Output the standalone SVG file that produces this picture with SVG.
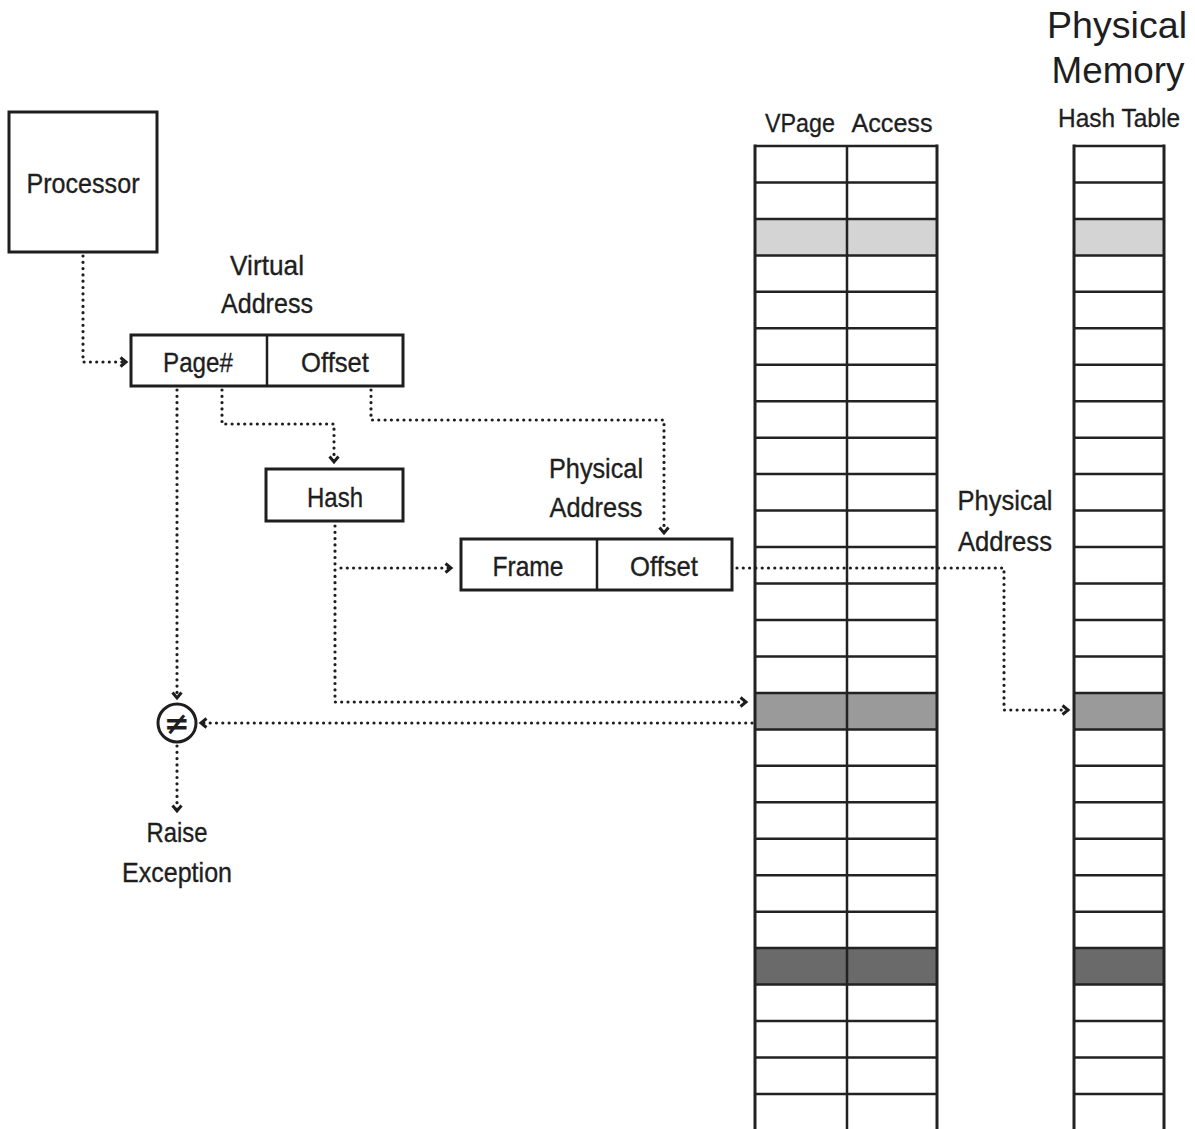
<svg xmlns="http://www.w3.org/2000/svg" width="1195" height="1129" viewBox="0 0 1195 1129">
<style>
.box{fill:#fff;stroke:#1e1e1e;stroke-width:3}
.div{stroke:#1e1e1e;stroke-width:2.5;fill:none}
.t{font-family:"Liberation Sans",Arial,sans-serif;font-size:28.5px;fill:#1e1e1e;stroke:#1e1e1e;stroke-width:0.35;text-anchor:middle}
.h{font-family:"Liberation Sans",Arial,sans-serif;font-size:26px;fill:#1e1e1e;stroke:#1e1e1e;stroke-width:0.3;text-anchor:middle}
.big{font-family:"Liberation Sans",Arial,sans-serif;font-size:36px;fill:#1e1e1e;text-anchor:middle}
.dot{fill:none;stroke:#1e1e1e;stroke-width:3.2;stroke-linecap:round;stroke-dasharray:0 6.3}
.grid{fill:none;stroke:#222;stroke-width:2.5}
.l{fill:#d4d4d4}.m{fill:#9a9a9a}.d{fill:#6a6a6a}
</style>
<defs>
<marker id="ah" markerUnits="userSpaceOnUse" markerWidth="14" markerHeight="14" refX="8" refY="6" orient="auto" viewBox="0 0 14 12">
<path d="M2.5,1.5 L8,6 L2.5,10.5" fill="none" stroke="#1e1e1e" stroke-width="3"/>
</marker>
</defs>
<rect width="1195" height="1129" fill="#fff"/>

<g id="processor">
<rect class="box" x="9" y="112" width="148" height="140"/>
<text class="t" x="83" y="193" textLength="113" lengthAdjust="spacingAndGlyphs">Processor</text>
</g>

<g id="virtual-address">
<text class="t" x="267" y="275" textLength="74" lengthAdjust="spacingAndGlyphs">Virtual</text>
<text class="t" x="267" y="313" textLength="92" lengthAdjust="spacingAndGlyphs">Address</text>
<rect class="box" x="131" y="335" width="272" height="51"/>
<line class="div" x1="267" y1="335" x2="267" y2="386"/>
<text class="t" x="198" y="372" textLength="70" lengthAdjust="spacingAndGlyphs">Page#</text>
<text class="t" x="335" y="372" textLength="68" lengthAdjust="spacingAndGlyphs">Offset</text>
</g>

<g id="hash">
<rect class="box" x="266" y="469" width="137" height="52"/>
<text class="t" x="335" y="507" textLength="56" lengthAdjust="spacingAndGlyphs">Hash</text>
</g>

<g id="physical-address">
<text class="t" x="596" y="478" textLength="94" lengthAdjust="spacingAndGlyphs">Physical</text>
<text class="t" x="596" y="517" textLength="93" lengthAdjust="spacingAndGlyphs">Address</text>
<rect class="box" x="461" y="539" width="271" height="51"/>
<line class="div" x1="597" y1="539" x2="597" y2="590"/>
<text class="t" x="528" y="576" textLength="71" lengthAdjust="spacingAndGlyphs">Frame</text>
<text class="t" x="664" y="576" textLength="68" lengthAdjust="spacingAndGlyphs">Offset</text>
</g>

<g id="compare">
<circle cx="177" cy="723" r="19" fill="#fff" stroke="#1e1e1e" stroke-width="3"/>
<text x="177" y="734" font-family="DejaVu Sans,sans-serif" font-size="31" font-weight="bold" text-anchor="middle" fill="#1e1e1e">≠</text>
</g>

<g id="raise-exception">
<text class="t" x="177" y="842" textLength="61" lengthAdjust="spacingAndGlyphs">Raise</text>
<text class="t" x="177" y="882" textLength="110" lengthAdjust="spacingAndGlyphs">Exception</text>
</g>

<g id="page-table">
<text class="h" x="800" y="132" textLength="70" lengthAdjust="spacingAndGlyphs">VPage</text>
<text class="h" x="892" y="132" textLength="81" lengthAdjust="spacingAndGlyphs">Access</text>
<rect x="755" y="146" width="182" height="985" fill="#fff"/>
<rect class="l" x="755" y="218.9" width="182" height="36.5"/>
<rect class="m" x="755" y="692.9" width="182" height="36.5"/>
<rect class="d" x="755" y="948.1" width="182" height="36.5"/>
<path class="grid" d="M755,146H937M755,182.5H937M755,218.9H937M755,255.4H937M755,291.8H937M755,328.3H937M755,364.8H937M755,401.2H937M755,437.7H937M755,474.1H937M755,510.6H937M755,547.1H937M755,583.5H937M755,620H937M755,656.4H937M755,692.9H937M755,729.4H937M755,765.8H937M755,802.3H937M755,838.7H937M755,875.2H937M755,911.7H937M755,948.1H937M755,984.6H937M755,1021H937M755,1057.5H937M755,1094H937M847,146V1131"/>
<path d="M755,144.5V1131M937,144.5V1131" fill="none" stroke="#222" stroke-width="3"/>
</g>

<g id="hash-table">
<text class="big" x="1117" y="38" textLength="140" lengthAdjust="spacingAndGlyphs">Physical</text>
<text class="big" x="1118" y="83" textLength="133" lengthAdjust="spacingAndGlyphs">Memory</text>
<text class="h" x="1119" y="127" textLength="122" lengthAdjust="spacingAndGlyphs">Hash Table</text>
<rect x="1074" y="146" width="90" height="985" fill="#fff"/>
<rect class="l" x="1074" y="218.9" width="90" height="36.5"/>
<rect class="m" x="1074" y="692.9" width="90" height="36.5"/>
<rect class="d" x="1074" y="948.1" width="90" height="36.5"/>
<path class="grid" d="M1074,146H1164M1074,182.5H1164M1074,218.9H1164M1074,255.4H1164M1074,291.8H1164M1074,328.3H1164M1074,364.8H1164M1074,401.2H1164M1074,437.7H1164M1074,474.1H1164M1074,510.6H1164M1074,547.1H1164M1074,583.5H1164M1074,620H1164M1074,656.4H1164M1074,692.9H1164M1074,729.4H1164M1074,765.8H1164M1074,802.3H1164M1074,838.7H1164M1074,875.2H1164M1074,911.7H1164M1074,948.1H1164M1074,984.6H1164M1074,1021H1164M1074,1057.5H1164M1074,1094H1164"/>
<path d="M1074,144.5V1131M1164,144.5V1131" fill="none" stroke="#222" stroke-width="3"/>
</g>

<g id="right-label">
<text class="t" x="1005" y="510" textLength="95" lengthAdjust="spacingAndGlyphs">Physical</text>
<text class="t" x="1005" y="551" textLength="94" lengthAdjust="spacingAndGlyphs">Address</text>
</g>

<g id="connectors">
<path class="dot" d="M83,256V362H126" marker-end="url(#ah)"/>
<path class="dot" d="M177,390V698" marker-end="url(#ah)"/>
<path class="dot" d="M222,390V424H334V462" marker-end="url(#ah)"/>
<path class="dot" d="M371,390V420H664V533" marker-end="url(#ah)"/>
<path class="dot" d="M335,526V702H746" marker-end="url(#ah)"/>
<path class="dot" d="M341,568H451" marker-end="url(#ah)"/>
<path class="dot" d="M737,568H1004V710H1068" marker-end="url(#ah)"/>
<path class="dot" d="M752,723H201" marker-end="url(#ah)"/>
<path class="dot" d="M177,746V811" marker-end="url(#ah)"/>
</g>
</svg>
